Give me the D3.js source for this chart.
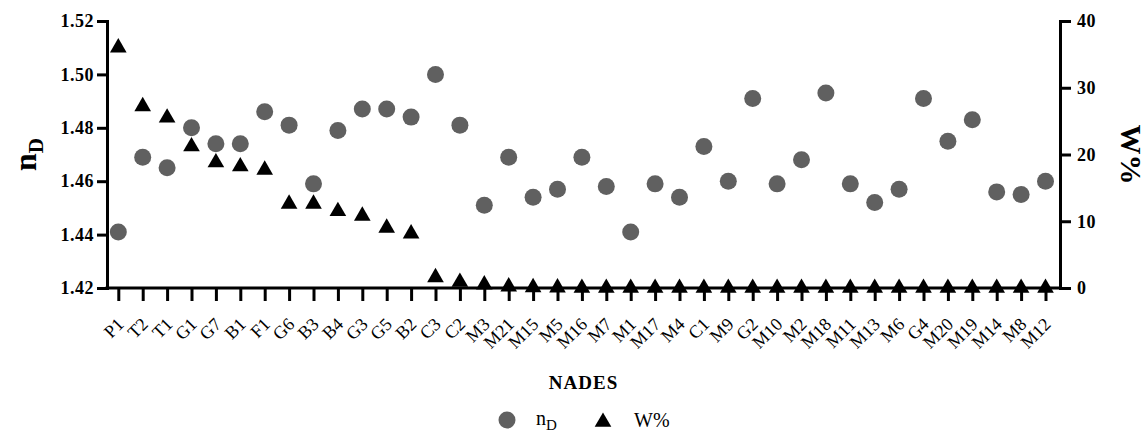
<!DOCTYPE html>
<html>
<head>
<meta charset="utf-8">
<script src="https://d3js.org/d3.v7.min.js"></script>
<style>
  html, body { margin: 0; padding: 0; background: #fff; }
  svg { display: block; }
  .axis path, .axis line { stroke: #000; stroke-width: 3; }
  .tickbold text { font-family: "Liberation Serif", serif; font-weight: bold; font-size: 18px; fill: #000; letter-spacing: 0.5px; }
  .xaxis text { font-family: "Liberation Serif", serif; font-size: 18px; fill: #000; }
</style>
</head>
<body>
<svg id="chart" width="1147" height="432"></svg>
<script>
// NADES samples in plotted order
const categories = ["P1","T2","T1","G1","G7","B1","F1","G6","B3","B4","G3","G5","B2","C3","C2",
  "M3","M21","M15","M5","M16","M7","M1","M17","M4","C1","M9","G2","M10","M2","M18",
  "M11","M13","M6","G4","M20","M19","M14","M8","M12"];

// refractive index n_D (left axis)
const nD = [1.441,1.469,1.465,1.480,1.474,1.474,1.486,1.481,1.459,1.479,1.487,1.487,1.484,1.500,1.481,
  1.451,1.469,1.454,1.457,1.469,1.458,1.441,1.459,1.454,1.473,1.460,1.491,1.459,1.468,1.493,
  1.459,1.452,1.457,1.491,1.475,1.483,1.456,1.455,1.460];

// water content W% (right axis)
const water = [36.0,27.2,25.5,21.2,18.8,18.2,17.7,12.6,12.6,11.5,10.8,9.0,8.15,1.6,0.9,
  0.5,0.2,0.1,0.05,0,0,0,0,0,0,0,0,0,0,0,
  0,0,0,0,0,0,0,0,0];

const leftTicks = [1.42,1.44,1.46,1.48,1.50,1.52];
const rightTicks = [0,10,20,30,40];

const svg = d3.select("#chart");
const plotL = 107, plotR = 1060, plotT = 21, plotB = 288;

const x = d3.scalePoint().domain(categories).range([plotL + 11.3, plotR - 14.5]);
const yL = d3.scaleLinear().domain([1.42, 1.52]).range([plotB, plotT]);
const yR = d3.scaleLinear().domain([0, 40]).range([plotB, plotT]);

// x axis with diagonal sample labels
const gx = svg.append("g").attr("class", "axis xaxis")
  .attr("transform", `translate(0,${plotB})`)
  .call(d3.axisBottom(x).tickSize(13).tickSizeOuter(0));
gx.select(".domain").attr("d", `M${plotL},0H${plotR}`);
gx.selectAll("text")
  .attr("text-anchor", "end")
  .attr("x", 0).attr("y", 0)
  .attr("dy", "0.35em")
  .attr("transform", "translate(1.5,33) rotate(-45)");

// left axis
svg.append("g").attr("class", "axis tickbold")
  .attr("transform", `translate(${plotL},0)`)
  .call(d3.axisLeft(yL).tickValues(leftTicks).tickFormat(d3.format(".2f")).tickSize(10).tickSizeOuter(0).tickPadding(3));

// right axis
svg.append("g").attr("class", "axis tickbold")
  .attr("transform", `translate(${plotR},0)`)
  .call(d3.axisRight(yR).tickValues(rightTicks).tickSize(11).tickSizeOuter(0).tickPadding(6));

svg.selectAll(".axis .domain").attr("stroke-linecap", "square");

// n_D circles
svg.append("g").selectAll("circle").data(categories).join("circle")
  .attr("cx", d => x(d))
  .attr("cy", (d, i) => yL(nD[i]))
  .attr("r", 8.5)
  .attr("fill", "#606060");

// W% triangles
const tri = d3.symbol().type(d3.symbolTriangle).size(120);
svg.append("g").selectAll("path").data(categories).join("path")
  .attr("d", tri)
  .attr("transform", (d, i) => `translate(${x(d)},${yR(water[i])})`)
  .attr("fill", "#000");

// axis titles
const serif = "'Liberation Serif', serif";
const lt = svg.append("text")
  .attr("transform", `translate(36,${(plotT + plotB) / 2}) rotate(-90)`)
  .attr("text-anchor", "middle")
  .style("font-family", serif).style("font-weight", "bold").style("font-size", "32px");
lt.append("tspan").text("n");
lt.append("tspan").attr("dy", 7).style("font-size", "21px").text("D");

svg.append("text")
  .attr("transform", `translate(1121,${(plotT + plotB) / 2}) rotate(90)`)
  .attr("text-anchor", "middle")
  .style("font-family", serif).style("font-weight", "bold").style("font-size", "30px")
  .text("W%");

svg.append("text")
  .attr("x", (plotL + plotR) / 2).attr("y", 389)
  .attr("text-anchor", "middle")
  .style("font-family", serif).style("font-weight", "bold").style("font-size", "19px")
  .style("letter-spacing", "1px")
  .text("NADES");

// legend
const leg = svg.append("g");
leg.append("circle").attr("cx", 507).attr("cy", 420).attr("r", 8.5).attr("fill", "#606060");
const ln = leg.append("text").attr("x", 536).attr("y", 425)
  .style("font-family", serif).style("font-size", "20px");
ln.append("tspan").text("n");
ln.append("tspan").attr("dy", 5).style("font-size", "15px").text("D");
leg.append("path").attr("d", tri).attr("transform", "translate(603,422)").attr("fill", "#000");
leg.append("text").attr("x", 634).attr("y", 427)
  .style("font-family", serif).style("font-size", "20px").text("W%");
</script>
</body>
</html>
